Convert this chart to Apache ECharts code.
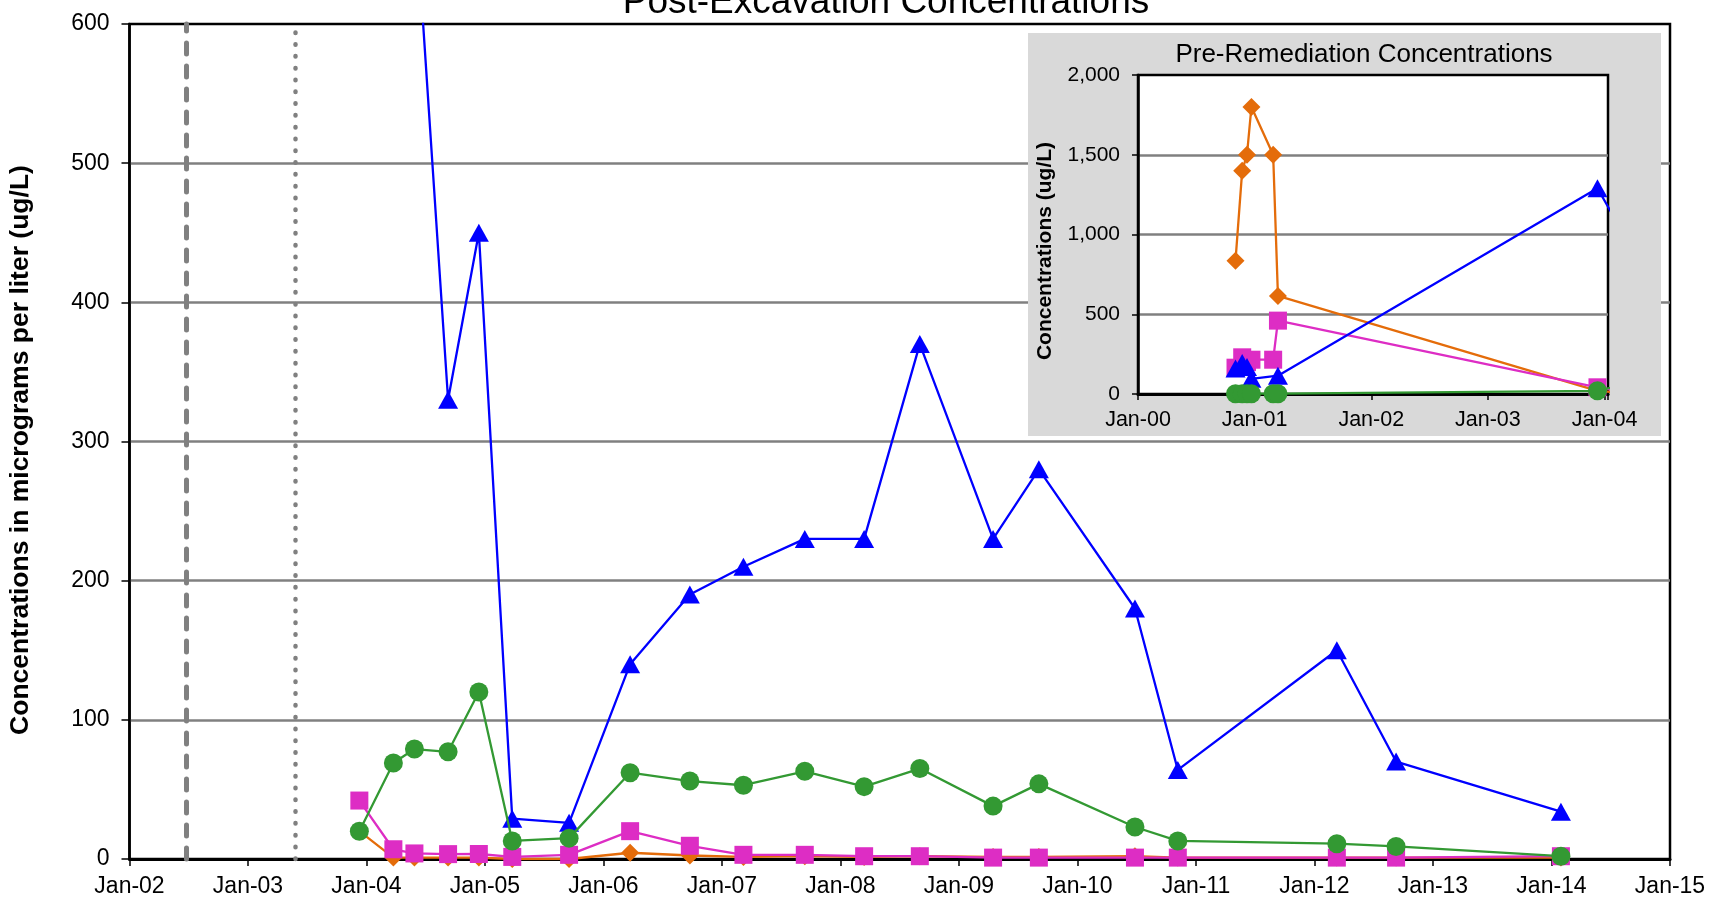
<!DOCTYPE html>
<html>
<head>
<meta charset="utf-8">
<script src="https://cdn.jsdelivr.net/npm/echarts@6/dist/echarts.min.js"></script>
<style>
  html, body { margin: 0; padding: 0; background: #fff; }
  #chart { width: 1711px; height: 906px; }
</style>
</head>
<body>
<div id="chart"></div>
<script>
// ---------- DATA ----------
const postDates = ['2003-12-10','2004-03-24','2004-05-28','2004-09-09','2004-12-13','2005-03-26','2005-09-17',
  '2006-03-24','2006-09-24','2007-03-08','2007-09-13','2008-03-14','2008-09-02','2009-04-16','2009-09-04',
  '2010-06-27','2010-11-06','2012-03-10','2012-09-09','2014-01-30'];
const bluePost    = [1290, null, null, 330, 450, 29, 26, 140, 190, 210, 230, 230, 370, 230, 280, 180, 64, 150, 70, 34];
const greenPost   = [20, 69, 79, 77, 120, 13, 15, 62, 56, 53, 63, 52, 65, 38, 54, 23, 13, 11, 9, 2];
const magentaPost = [42, 7, 4, 3.5, 3.6, 1.5, 3, 20, 9.5, 3, 3, 2, 2, 1, 1, 1, 1, 1, 1, 2];
const orangePost  = [20, 1, 1, 1, 1, 0, 0, 4.5, 2.5, 1.5, 2, 1.5, 2, 1.5, 1.5, 2, 1, 1, 1, 1];

const preDates   = ['2000-11-02','2000-11-23','2000-12-08','2000-12-22','2001-02-28','2001-03-15'];
const bluePre    = [160, 195, 170, 95, null, 115];
const greenPre   = [2, 2, 2, 2, 2, 2];
const magentaPre = [165, 230, 200, 215, 215, 460];
const orangePre  = [836, 1400, 1500, 1800, 1500, 615];

const dashedEvents = ['2000-10-28', '2001-01-25', '2002-06-26'];
const dottedEvents = ['2003-05-27'];

const mainXRange  = [2002, 2015];
const insetXRange = [2000, 2004.03];
const mainYRange  = [0, 600, 100];
const insetYRange = [0, 2000, 500];

const mainTitle  = 'Post-Excavation Concentrations';
const insetTitle = 'Pre-Remediation Concentrations';
const mainYName  = 'Concentrations in micrograms per liter (ug/L)';
const insetYName = 'Concentrations (ug/L)';

// ---------- HELPERS ----------
const FONT = '"Liberation Sans", Arial, sans-serif';
function toYear(s) {
  const d = Date.parse(s + 'T00:00:00Z');
  const y = new Date(d).getUTCFullYear();
  const a = Date.UTC(y, 0, 1), b = Date.UTC(y + 1, 0, 1);
  return y + (d - a) / (b - a);
}
function pairs(dates, vals) { return dates.map((d, i) => [toYear(d), vals[i]]); }
function jan(v) {
  if (Math.abs(v - Math.round(v)) > 1e-6) return '';
  return 'Jan-' + String(Math.round(v) % 100).padStart(2, '0');
}
const C = { blue: '#0000FF', green: '#339933', magenta: '#DD2DC4', orange: '#E46C0A' };
const defs = [
  { name: 'orange',  color: C.orange,  symbol: 'diamond',  size: [18, 18], pre: orangePre,  post: orangePost },
  { name: 'magenta', color: C.magenta, symbol: 'rect',     size: [18, 18], pre: magentaPre, post: magentaPost },
  { name: 'blue',    color: C.blue,    symbol: 'triangle', size: [20, 18], pre: bluePre,    post: bluePost },
  { name: 'green',   color: C.green,   symbol: 'circle',   size: [19, 19], pre: greenPre,   post: greenPost }
];
const dashStyle = { color: '#808080', width: 5, type: [11, 12], cap: 'round' };
const dotStyle  = { color: '#808080', width: 4.5, type: [0.5, 11.3], cap: 'round' };
function eventLines(range) {
  const out = [];
  dashedEvents.map(toYear).filter(v => v >= range[0] && v <= range[1])
    .forEach(v => out.push({ xAxis: v, lineStyle: dashStyle }));
  dottedEvents.map(toYear).filter(v => v >= range[0] && v <= range[1])
    .forEach(v => out.push({ xAxis: v, lineStyle: dotStyle }));
  return out;
}

const series = [];
[0, 1].forEach(g => {
  series.push({
    type: 'line', xAxisIndex: g, yAxisIndex: g, data: [], z: g ? 12 : 1, silent: true,
    markLine: { silent: true, symbol: ['none', 'none'], label: { show: false },
      data: eventLines(g ? insetXRange : mainXRange) }
  });
  defs.forEach((d, k) => {
    const data = g ? pairs(preDates, d.pre).concat(pairs(postDates, d.post)) : pairs(postDates, d.post);
    series.push({
      type: 'line', name: d.name, xAxisIndex: g, yAxisIndex: g, data,
      connectNulls: true, clip: true, z: (g ? 13 : 2) + k * 0.01,
      symbol: d.symbol, symbolSize: d.size, showAllSymbol: true,
      lineStyle: { color: d.color, width: 2.3 },
      itemStyle: { color: d.color, borderWidth: 0 }
    });
  });
});

const option = {
  animation: false,
  backgroundColor: '#ffffff',
  grid: [
    { left: 129.5, right: 41, top: 24, bottom: 47, show: true, borderColor: '#000', borderWidth: 2.5, backgroundColor: 'transparent', z: 0 },
    { left: 1138, right: 103, top: 75, bottom: 512, show: true, borderColor: '#000', borderWidth: 2.5, backgroundColor: '#ffffff', z: 11 }
  ],
  xAxis: [
    { gridIndex: 0, type: 'value', min: mainXRange[0], max: mainXRange[1], interval: 1,
      axisLine: { lineStyle: { color: '#000', width: 3 } },
      axisTick: { length: 7, lineStyle: { color: '#000', width: 1.5 } },
      axisLabel: { fontSize: 23, color: '#000', fontFamily: FONT, margin: 16, formatter: jan },
      splitLine: { show: false } },
    { gridIndex: 1, type: 'value', min: insetXRange[0], max: insetXRange[1], interval: 1, z: 12,
      axisLine: { lineStyle: { color: '#000', width: 3 } },
      axisTick: { length: 6, lineStyle: { color: '#000', width: 1.5 } },
      axisLabel: { fontSize: 21.5, color: '#000', fontFamily: FONT, margin: 15, formatter: jan },
      splitLine: { show: false } }
  ],
  yAxis: [
    { gridIndex: 0, type: 'value', min: mainYRange[0], max: mainYRange[1], interval: mainYRange[2],
      axisLine: { show: true, lineStyle: { color: '#000', width: 2.5 } },
      axisTick: { show: true, length: 8, lineStyle: { color: '#000', width: 1.5 } },
      axisLabel: { fontSize: 23, color: '#000', fontFamily: FONT, margin: 20 },
      splitLine: { show: true, showMinLine: false, showMaxLine: false, lineStyle: { color: '#808080', width: 2.5 } } },
    { gridIndex: 1, type: 'value', min: insetYRange[0], max: insetYRange[1], interval: insetYRange[2], z: 12,
      axisLine: { show: true, lineStyle: { color: '#000', width: 2.5 } },
      axisTick: { show: true, length: 6, lineStyle: { color: '#000', width: 1.5 } },
      axisLabel: { fontSize: 21, color: '#000', fontFamily: FONT, margin: 18,
        formatter: v => v.toLocaleString('en-US') },
      splitLine: { show: true, showMinLine: false, showMaxLine: false, lineStyle: { color: '#808080', width: 2.5 } } }
  ],
  graphic: [
    { type: 'rect', z: 10, silent: true, shape: { x: 1028, y: 33, width: 633, height: 403 }, style: { fill: '#D9D9D9' } },
    { type: 'text', z: 20, x: 886, y: 3, silent: true,
      style: { text: mainTitle, font: '37px ' + FONT, fill: '#000', textAlign: 'center', textVerticalAlign: 'middle' } },
    { type: 'text', z: 20, x: 1364, y: 55, silent: true,
      style: { text: insetTitle, font: '26px ' + FONT, fill: '#000', textAlign: 'center', textVerticalAlign: 'middle' } },
    { type: 'text', z: 20, x: 21, y: 450, rotation: Math.PI / 2, silent: true,
      style: { text: mainYName, font: 'bold 26.5px ' + FONT, fill: '#000', textAlign: 'center', textVerticalAlign: 'middle' } },
    { type: 'text', z: 20, x: 1045, y: 251, rotation: Math.PI / 2, silent: true,
      style: { text: insetYName, font: 'bold 21px ' + FONT, fill: '#000', textAlign: 'center', textVerticalAlign: 'middle' } }
  ],
  series
};

const chart = echarts.init(document.getElementById('chart'), null, { renderer: 'canvas' });
chart.setOption(option);
</script>
</body>
</html>
